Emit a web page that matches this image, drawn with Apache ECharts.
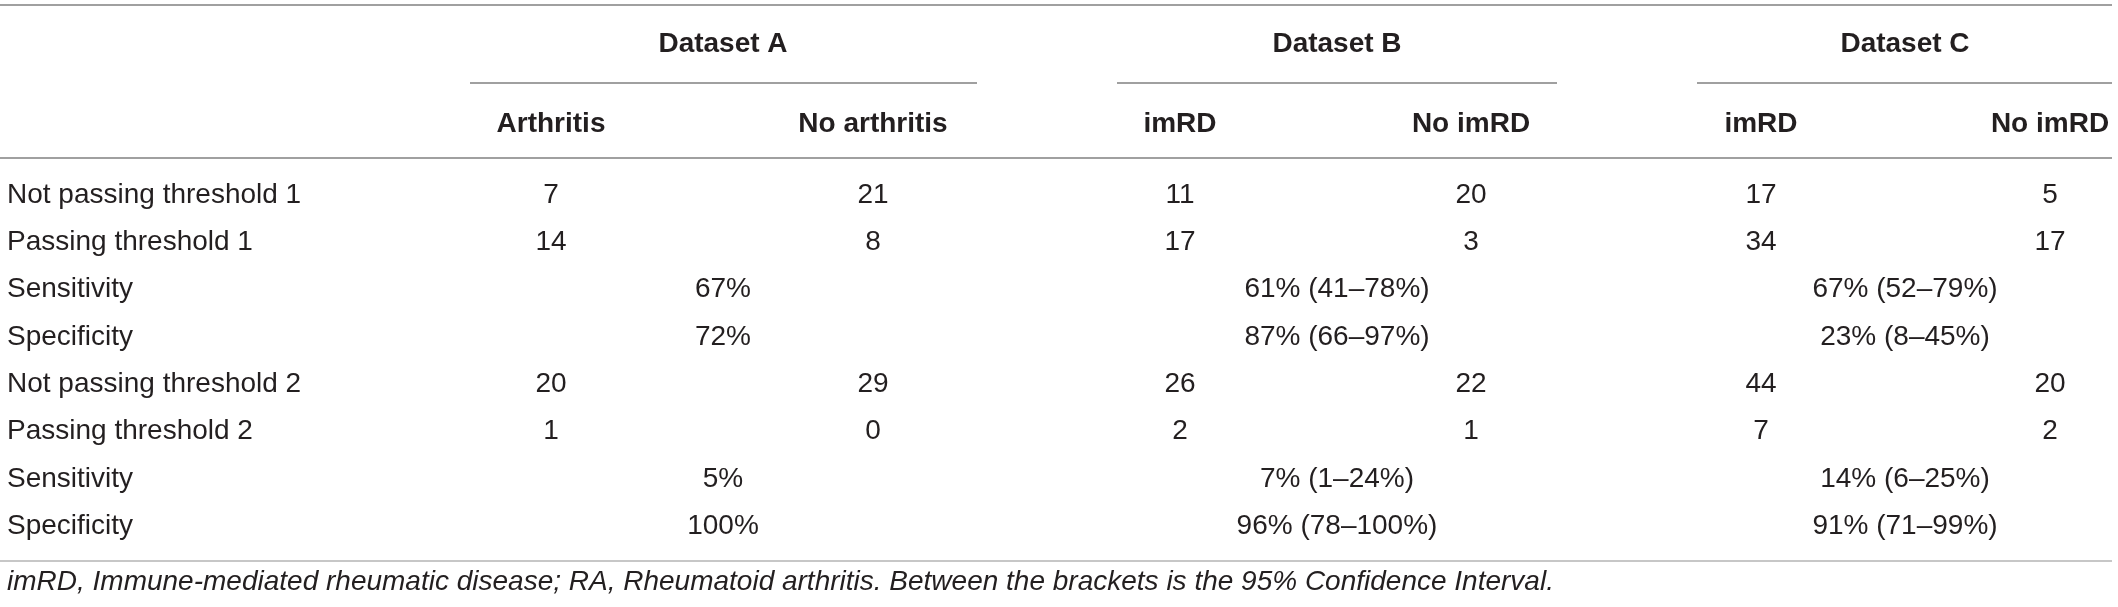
<!DOCTYPE html>
<html lang="en">
<head>
    <meta charset="UTF-8">
    <title>Thresholds table</title>
    <script src="https://cdn.jsdelivr.net/npm/echarts@6/dist/echarts.min.js"></script>
    <style>
        html, body { margin: 0; padding: 0; background: #fff; }
    </style>
</head>
<body>
    <div id="main" style="width:2118px;height:607px;"></div>

    <script>
    // table content
    var groups = ['Dataset A', 'Dataset B', 'Dataset C'];
    var subHeads = ['Arthritis', 'No arthritis', 'imRD', 'No imRD', 'imRD', 'No imRD'];
    var rowLabels = [
        'Not passing threshold 1', 'Passing threshold 1', 'Sensitivity', 'Specificity',
        'Not passing threshold 2', 'Passing threshold 2', 'Sensitivity', 'Specificity'
    ];
    var notPass1 = [7, 21, 11, 20, 17, 5];
    var pass1 = [14, 8, 17, 3, 34, 17];
    var notPass2 = [20, 29, 26, 22, 44, 20];
    var pass2 = [1, 0, 2, 1, 7, 2];
    var sens1 = ['67%', '61% (41–78%)', '67% (52–79%)'];
    var spec1 = ['72%', '87% (66–97%)', '23% (8–45%)'];
    var sens2 = ['5%', '7% (1–24%)', '14% (6–25%)'];
    var spec2 = ['100%', '96% (78–100%)', '91% (71–99%)'];
    var footnote = 'imRD, Immune-mediated rheumatic disease; RA, Rheumatoid arthritis. Between the brackets is the 95% Confidence Interval.';

    // layout (column centres on a 0..2118 x scale)
    var labelX = 7;
    var colX = [551, 873, 1180, 1471, 1761, 2050];
    var groupX = [723, 1337, 1905];
    var groupSpan = [[470, 977], [1117, 1557], [1697, 2112]];

    var txt = '#231f20';
    var font = 'Liberation Sans, Arial, sans-serif';

    function cellSeries(name, grid, data, bold, pos) {
        return {
            name: name,
            type: 'scatter',
            xAxisIndex: grid,
            yAxisIndex: grid,
            symbolSize: 0,
            silent: true,
            animation: false,
            itemStyle: { opacity: 1, color: txt },
            data: data,
            label: {
                show: true,
                formatter: '{b}',
                position: pos || 'inside',
                distance: 0,
                fontFamily: font,
                fontSize: 28,
                fontWeight: bold ? 'bold' : 'normal',
                color: txt,
                textBorderWidth: 0
            }
        };
    }

    var countRows = [[0, notPass1], [1, pass1], [4, notPass2], [5, pass2]];
    var mergedRows = [[2, sens1], [3, spec1], [6, sens2], [7, spec2]];

    var countData = [];
    countRows.forEach(function (r) {
        r[1].forEach(function (v, j) {
            countData.push({ name: String(v), value: [colX[j], r[0]] });
        });
    });
    var mergedData = [];
    mergedRows.forEach(function (r) {
        r[1].forEach(function (v, k) {
            mergedData.push({ name: v, value: [groupX[k], r[0]] });
        });
    });

    var chart = echarts.init(document.getElementById('main'));

    var rule = function (x1, y, x2, color) {
        return {
            type: 'line',
            silent: true,
            shape: { x1: x1, y1: y, x2: x2, y2: y },
            style: { stroke: color, lineWidth: 1.5 }
        };
    };
    var rules = [
        rule(0, 5, 2112, '#808080'),
        rule(0, 158, 2112, '#808080'),
        rule(0, 561, 2112, '#b4b4b4')
    ];
    groupSpan.forEach(function (s) { rules.push(rule(s[0], 83, s[1], '#808080')); });

    chart.setOption({
        backgroundColor: '#fff',
        title: {
            text: footnote,
            left: labelX,
            top: 568,
            padding: 0,
            textStyle: {
                fontFamily: font,
                fontSize: 28,
                fontStyle: 'italic',
                fontWeight: 'normal',
                color: txt
            }
        },
        grid: [
            { left: 0, right: 0, top: 5, bottom: 443 },
            { left: 0, right: 0, top: 171.4, bottom: 57.2 }
        ],
        xAxis: [
            { type: 'value', gridIndex: 0, min: 0, max: 2118, show: false },
            { type: 'value', gridIndex: 1, min: 0, max: 2118, show: false }
        ],
        yAxis: [
            { type: 'category', gridIndex: 0, data: ['group', 'sub'], inverse: true, show: false },
            { type: 'category', gridIndex: 1, data: rowLabels.map(function (t, i) { return i; }), inverse: true, show: false }
        ],
        graphic: rules,
        series: [
            cellSeries('groups', 0, groups.map(function (g, k) { return { name: g, value: [groupX[k], 0] }; }), true),
            cellSeries('subheads', 0, subHeads.map(function (s, j) { return { name: s, value: [colX[j], 1] }; }), true),
            cellSeries('rowLabels', 1, rowLabels.map(function (t, i) { return { name: t, value: [labelX, i] }; }), false, 'right'),
            cellSeries('counts', 1, countData, false),
            cellSeries('merged', 1, mergedData, false)
        ]
    });

    window.onresize = function () {
        chart.resize();
    };
    </script>
</body>
</html>
